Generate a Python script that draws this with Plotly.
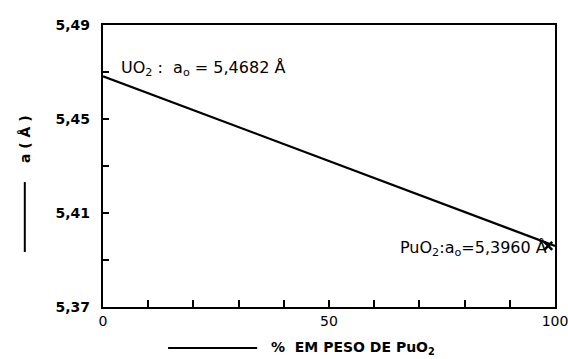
import plotly.graph_objects as go

# Data
pct_puo2 = [0, 100]
lattice_a = [5.4682, 5.3960]
y_tickvals = [5.37, 5.41, 5.45, 5.49]
x_tickvals = [0, 50, 100]
label_uo2 = "UO<sub>2</sub> :  a<sub>o</sub> = 5,4682 Å"
label_puo2 = "PuO<sub>2</sub>:a<sub>o</sub>=5,3960 Å"

FONT = "DejaVu Sans"

fig = go.Figure()
fig.add_trace(go.Scatter(
    x=pct_puo2, y=lattice_a, mode="lines",
    line=dict(color="black", width=2.2), showlegend=False,
))
fig.add_trace(go.Scatter(
    x=[pct_puo2[-1] - 1.5], y=[lattice_a[-1]], mode="markers",
    marker=dict(symbol="x-thin", size=8, line=dict(color="black", width=2.5)),
    showlegend=False,
))

fig.update_layout(
    width=568, height=359,
    margin=dict(l=103, r=13, t=25, b=52),
    paper_bgcolor="white", plot_bgcolor="white",
    separators=",.",
    font=dict(family=FONT, color="black", size=13),
    xaxis=dict(
        range=[0, 100], tickvals=x_tickvals, ticktext=["0", "50", "100"],
        ticks="inside", ticklen=7, tickwidth=1.5, tickcolor="black",
        minor=dict(dtick=10, tick0=0, ticks="inside", ticklen=7, tickwidth=1.5, tickcolor="black"),
        showline=True, linecolor="black", linewidth=2.2, mirror=True,
        showgrid=False, zeroline=False, automargin=False,
        ticklabeloverflow="allow",
        tickfont=dict(family=FONT, size=14, color="black"),
    ),
    yaxis=dict(
        range=[5.37, 5.49], tickvals=y_tickvals,
        ticktext=["5,37", "5,41", "5,45", "5,49"],
        ticks="inside", ticklen=6, tickwidth=1.5, tickcolor="black",
        minor=dict(dtick=0.02, tick0=5.37, ticks="inside", ticklen=6, tickwidth=1.5, tickcolor="black"),
        showline=True, linecolor="black", linewidth=2.2, mirror=True,
        showgrid=False, zeroline=False, automargin=False,
        ticklabeloverflow="allow", ticklabelstandoff=8,
        tickfont=dict(family=FONT, size=14, color="black", weight="bold"),
    ),
)

fig.add_annotation(
    x=3.5, y=5.4717, xref="x", yref="y", text=label_uo2, showarrow=False,
    xanchor="left", yanchor="middle", font=dict(family=FONT, size=16, color="black"),
)
fig.add_annotation(
    x=65.3, y=5.3951, xref="x", yref="y", text=label_puo2, showarrow=False,
    xanchor="left", yanchor="middle", font=dict(family=FONT, size=16, color="black"),
)

# Axis titles
fig.add_annotation(
    x=0.553, y=-0.145, xref="paper", yref="paper",
    text="<b>%  EM PESO DE PuO<sub>2</sub></b>", showarrow=False,
    xanchor="center", yanchor="middle", font=dict(family=FONT, size=14, color="black"),
)
fig.add_shape(type="line", xref="paper", yref="paper",
              x0=0.144, x1=0.341, y0=-0.145, y1=-0.145,
              line=dict(color="black", width=2))
fig.add_annotation(
    x=-0.173, y=0.595, xref="paper", yref="paper",
    text="<b>a ( Å )</b>", showarrow=False, textangle=-90,
    xanchor="center", yanchor="middle", font=dict(family=FONT, size=14, color="black"),
)
fig.add_shape(type="line", xref="paper", yref="paper",
              x0=-0.173, x1=-0.173, y0=0.195, y1=0.443,
              line=dict(color="black", width=2))

fig.write_html(
    "out.html",
    config={"displayModeBar": False},
    post_script="document.body.style.margin='0';document.body.style.overflow='hidden';",
)
